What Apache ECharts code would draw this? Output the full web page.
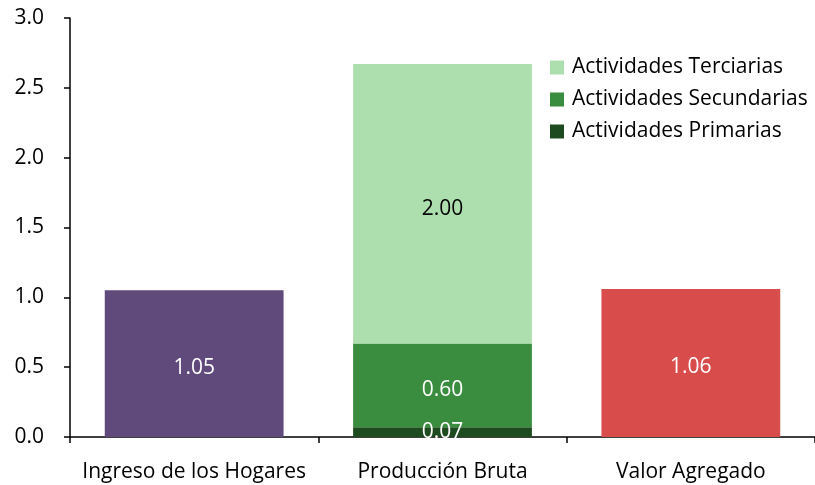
<!DOCTYPE html>
<html>
<head>
<meta charset="utf-8">
<script src="https://cdn.jsdelivr.net/npm/echarts@6/dist/echarts.min.js"></script>
<style>
  html, body { margin: 0; padding: 0; background: #fff; }
  #main { width: 815px; height: 485px; }
</style>
</head>
<body>
<div id="main"></div>
<script>
const categories = ["Ingreso de los Hogares", "Producción Bruta", "Valor Agregado"];
const primarias = [null, 0.07, null];
const secundarias = [null, 0.6, null];
const terciarias = [null, 2.0, null];
const totales = [1.05, null, 1.06];
const totalColors = ["#604a7b", null, "#d84c4c"];
const yTicks = [0, 0.5, 1.0, 1.5, 2.0, 2.5, 3.0];

const font = "'Open Sans', sans-serif";
const chart = echarts.init(document.getElementById("main"));

const label = (color, dy) => ({
	show: true,
	position: "inside",
	offset: [0, dy],
	color: color,
	fontFamily: font,
	fontSize: 21,
	formatter: (p) => p.value.toFixed(2),
});

const option = {
	animation: false,
	grid: { left: 70, top: 18, width: 748, bottom: 48 },
	legend: {
		orient: "vertical",
		left: 545,
		top: 52,
		itemWidth: 14,
		itemHeight: 14,
		itemGap: 11,
		icon: "rect",
		data: ["Actividades Terciarias", "Actividades Secundarias", "Actividades Primarias"],
		textStyle: { fontFamily: font, fontSize: 21, color: "#000", padding: [0, 0, 0, 3] },
	},
	xAxis: {
		type: "category",
		data: categories,
		axisLine: { lineStyle: { color: "#000", width: 1.5 } },
		axisTick: { show: true, length: 6, lineStyle: { color: "#000", width: 1.5 } },
		axisLabel: { interval: 0, color: "#000", fontFamily: font, fontSize: 21, margin: 25 },
	},
	yAxis: {
		type: "value",
		min: yTicks[0],
		max: yTicks[yTicks.length - 1],
		interval: 0.5,
		splitLine: { show: false },
		axisLine: { show: true, lineStyle: { color: "#000", width: 1.5 } },
		axisTick: { show: true, length: 6, lineStyle: { color: "#000", width: 1.5 } },
		axisLabel: {
			color: "#000",
			fontFamily: font,
			fontSize: 21,
			margin: 26,
			formatter: (v) => v.toFixed(1),
		},
	},
	series: [
		{
			name: "Total",
			type: "bar",
			stack: "a",
			barWidth: "72%",
			data: totales.map((v, i) => ({ value: v, itemStyle: { color: totalColors[i] } })),
			label: label("#fff", 4),
		},
		{
			name: "Actividades Primarias",
			type: "bar",
			stack: "a",
			data: primarias,
			itemStyle: { color: "#1e4a1f" },
			label: label("#fff", 0),
		},
		{
			name: "Actividades Secundarias",
			type: "bar",
			stack: "a",
			data: secundarias,
			itemStyle: { color: "#3a8c3e" },
			label: label("#fff", 5),
		},
		{
			name: "Actividades Terciarias",
			type: "bar",
			stack: "a",
			data: terciarias,
			itemStyle: { color: "#addead" },
			label: label("#000", 5),
		},
	],
};

chart.setOption(option);
</script>
</body>
</html>
